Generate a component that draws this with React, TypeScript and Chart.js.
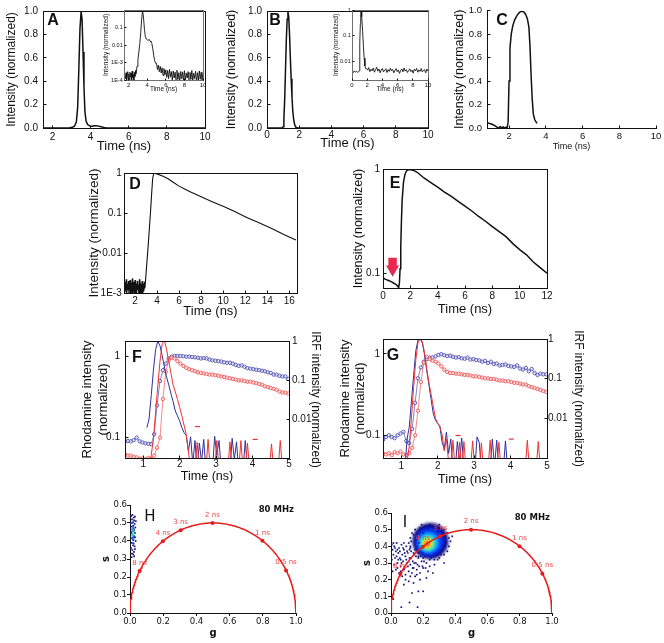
import React, { useEffect, useRef } from 'react';
import { Chart, registerables } from 'chart.js';

Chart.register(...registerables);

// ---------- fonts & colours ----------
const SANS = "'Liberation Sans', Arial, sans-serif";
const MPL = "'DejaVu Sans', sans-serif";
const INK = '#111111';
const INSET_FRAME = '#707070';
const IRF_BLUE = '#30309c';
const IRF_RED = '#ee3232';
const DOT_BLUE = '#4e4eb0';
const DOT_RED = '#f05656';
const ARROW_RED = '#e8294f';
const ARC_RED = '#e41c1c';
const TAU_RED = '#f04848';
const NAVY = '#14147a';
const HALO_BLUE = '#1a2ad8';

// ---------- shared tick sets ----------
const UNIT_TICKS = [0, 0.2, 0.4, 0.6, 0.8, 1];
const UNIT_LABELS = ['0.0', '0.2', '0.4', '0.6', '0.8', '1.0'];
const NS_2_10 = [2, 4, 6, 8, 10];
const NS_2_10_LABELS = ['2', '4', '6', '8', '10'];
const NS_0_10 = [0, 2, 4, 6, 8, 10];
const NS_0_10_LABELS = ['0', '2', '4', '6', '8', '10'];
const NS_D = [2, 4, 6, 8, 10, 12, 14, 16];
const NS_D_LABELS = ['2', '4', '6', '8', '10', '12', '14', '16'];
const NS_E = [0, 2, 4, 6, 8, 10, 12];
const NS_E_LABELS = ['0', '2', '4', '6', '8', '10', '12'];
const NS_FG = [1, 2, 3, 4, 5];
const NS_FG_LABELS = ['1', '2', '3', '4', '5'];
const G_TICKS = [0, 0.2, 0.4, 0.6, 0.8, 1];
const G_LABELS = ['0.0', '0.2', '0.4', '0.6', '0.8', '1.0'];
const S_TICKS = [0, 0.1, 0.2, 0.3, 0.4, 0.5, 0.6];
const S_LABELS = ['0.0', '0.1', '0.2', '0.3', '0.4', '0.5', '0.6'];

// ---------- A: instrument response, linear ----------
const A_T = [1.5, 2.0, 2.5, 2.9, 3.05, 3.15, 3.25, 3.32, 3.38, 3.44, 3.5, 3.55, 3.6, 3.65, 3.7, 3.76,
  3.84, 3.92, 4.0, 4.1, 4.2, 4.3, 4.4, 4.5, 4.6, 4.7, 4.8, 5.0, 6.0, 8.0, 10.0];
const A_V = [0, 0, 0, 0.002, 0.006, 0.015, 0.05, 0.18, 0.5, 0.85, 0.995, 0.93, 0.65, 0.35, 0.14, 0.06,
  0.03, 0.02, 0.016, 0.015, 0.02, 0.019, 0.016, 0.012, 0.008, 0.005, 0.003, 0.001, 0, 0, 0];

// A inset: same response on a log axis
const AI_PRE_T = [1.6, 1.66, 1.72, 1.78, 1.84, 1.9, 1.96, 2.02, 2.08, 2.14, 2.2, 2.26, 2.32, 2.38, 2.44,
  2.5, 2.56, 2.62, 2.68, 2.74, 2.8];
const AI_PRE_V = [2e-4, 1.2e-4, 2.6e-4, 0.9e-4, 1.8e-4, 3e-4, 1.1e-4, 2.2e-4, 0.8e-4, 2.8e-4, 1.5e-4,
  2.4e-4, 1e-4, 3.2e-4, 1.3e-4, 2e-4, 0.9e-4, 2.7e-4, 1.6e-4, 3.5e-4, 2.2e-4];
const AI_PEAK_T = [2.9, 3.0, 3.1, 3.2, 3.3, 3.4, 3.5, 3.6, 3.7, 3.8, 3.9, 4.0, 4.1, 4.2, 4.3, 4.4, 4.5,
  4.6, 4.7, 4.8, 4.9];
const AI_PEAK_V = [6e-4, 1.5e-3, 4e-3, 0.012, 0.05, 0.3, 0.98, 0.35, 0.08, 0.03, 0.022, 0.02, 0.018,
  0.021, 0.017, 0.015, 0.012, 0.006, 0.0025, 0.0013, 0.0009];
const AI_TAIL_T = [5.0, 5.1, 5.2, 5.3, 5.4, 5.5, 5.6, 5.7, 5.8, 5.9, 6.0, 6.1, 6.2, 6.3, 6.4, 6.5, 6.6,
  6.7, 6.8, 6.9, 7.0, 7.1, 7.2, 7.3, 7.4, 7.5, 7.6, 7.7, 7.8, 7.9, 8.0, 8.1, 8.2, 8.3, 8.4, 8.5, 8.6,
  8.7, 8.8, 8.9, 9.0, 9.1, 9.2, 9.3, 9.4, 9.5, 9.6, 9.7, 9.8, 9.9, 10.0];
const AI_TAIL_V = [9e-4, 4e-4, 7e-4, 3e-4, 6e-4, 2.5e-4, 5e-4, 1.8e-4, 4.5e-4, 2e-4, 3.8e-4, 1.4e-4,
  3.5e-4, 1.2e-4, 4e-4, 1.5e-4, 3e-4, 0.9e-4, 3.3e-4, 1.3e-4, 2.8e-4, 0.9e-4, 3.6e-4, 1.1e-4, 2.6e-4,
  0.8e-4, 3.1e-4, 1.2e-4, 2.9e-4, 0.9e-4, 3.4e-4, 1e-4, 2.5e-4, 1.3e-4, 3e-4, 0.8e-4, 2.7e-4, 1.1e-4,
  3.5e-4, 0.9e-4, 2.4e-4, 1.2e-4, 3.2e-4, 0.8e-4, 2.6e-4, 1e-4, 3.3e-4, 1.1e-4, 2.8e-4, 0.9e-4, 3e-4];
const AI_Y_TICKS = [1e-4, 1e-3, 1e-2, 1e-1];
const AI_Y_LABELS = ['1E-4', '1E-3', '0.01', '0.1'];

// ---------- B: second response, linear ----------
const B_T = [0, 0.5, 0.95, 1.0, 1.05, 1.1, 1.15, 1.2, 1.25, 1.3, 1.35, 1.4, 1.45, 1.5, 1.55, 1.6, 1.65,
  1.7, 1.75, 1.8, 1.9, 2.5, 5, 10];
const B_V = [0, 0, 0, 0.01, 0.08, 0.25, 0.5, 0.75, 0.93, 0.995, 0.95, 0.8, 0.6, 0.42, 0.27, 0.15, 0.08,
  0.04, 0.015, 0.005, 0, 0, 0, 0];

// B inset: log axis
const BI_PRE_T = [0, 0.15, 0.3, 0.45, 0.6, 0.75, 0.9];
const BI_PRE_V = [0.0042, 0.0038, 0.0045, 0.004, 0.0044, 0.0039, 0.0043];
const BI_PEAK_T = [0.95, 1.0, 1.05, 1.1, 1.15, 1.2, 1.25, 1.3, 1.4, 1.5, 1.6, 1.7, 1.8];
const BI_PEAK_V = [0.0045, 0.012, 0.06, 0.3, 0.7, 0.98, 0.85, 0.55, 0.15, 0.04, 0.014, 0.007, 0.0055];
const BI_TAIL_T = [1.9, 2.05, 2.2, 2.35, 2.5, 2.65, 2.8, 2.95, 3.1, 3.25, 3.4, 3.55, 3.7, 3.85, 4.0,
  4.15, 4.3, 4.45, 4.6, 4.75, 4.9, 5.05, 5.2, 5.35, 5.5, 5.65, 5.8, 5.95, 6.1, 6.25, 6.4, 6.55, 6.7,
  6.85, 7.0, 7.15, 7.3, 7.45, 7.6, 7.75, 7.9, 8.05, 8.2, 8.35, 8.5, 8.65, 8.8, 8.95, 9.1, 9.25, 9.4,
  9.55, 9.7, 9.85, 10.0];
const BI_TAIL_V = [0.0055, 0.0048, 0.006, 0.0042, 0.0052, 0.0045, 0.0058, 0.004, 0.005, 0.0062, 0.0044,
  0.0053, 0.0038, 0.0049, 0.0056, 0.0041, 0.0047, 0.0054, 0.0039, 0.005, 0.0043, 0.0057, 0.0045,
  0.0051, 0.0038, 0.0046, 0.0055, 0.0042, 0.0049, 0.0036, 0.0047, 0.0053, 0.0041, 0.0058, 0.0044,
  0.005, 0.0039, 0.0046, 0.0054, 0.0042, 0.0048, 0.0037, 0.0052, 0.0045, 0.0056, 0.004, 0.0049,
  0.0043, 0.0055, 0.0041, 0.0047, 0.005, 0.0038, 0.0053, 0.0044];
const BI_Y_TICKS = [0.01, 0.1, 1];
const BI_Y_LABELS = ['0.01', '0.1', '1'];

// ---------- C: gated pulse ----------
const C_T = [0.8, 0.9, 1.0, 1.1, 1.2, 1.3, 1.38, 1.45, 1.52, 1.6, 1.68, 1.75, 1.82, 1.9, 1.95, 2.0, 2.05,
  2.12, 2.2, 2.3, 2.4, 2.5, 2.6, 2.7, 2.8, 2.9, 3.0, 3.08, 3.14, 3.2, 3.26, 3.32, 3.4, 3.52];
const C_V = [0.045, 0.04, 0.036, 0.03, 0.022, 0.012, 0.004, 0, 0.012, 0.002, 0.01, 0, 0.006, 0.004, 0.05,
  0.4, 0.68, 0.8, 0.87, 0.92, 0.95, 0.975, 0.99, 0.995, 0.99, 0.97, 0.93, 0.86, 0.7, 0.45, 0.25, 0.12,
  0.07, 0.04];

// ---------- D: rhodamine decay, log ----------
const D_NOISE_T = [1.0, 1.05, 1.1, 1.15, 1.2, 1.25, 1.3, 1.35, 1.4, 1.45, 1.5, 1.55, 1.6, 1.65, 1.7,
  1.75, 1.8, 1.85, 1.9, 1.95, 2.0, 2.05, 2.1, 2.15, 2.2, 2.25, 2.3, 2.35, 2.4, 2.45, 2.5, 2.55, 2.6,
  2.65, 2.7, 2.75, 2.8, 2.85, 2.9];
const D_NOISE_V = [0.0016, 0.0009, 0.0019, 0.0011, 0.0022, 0.0008, 0.0017, 0.0012, 0.002, 0.0009,
  0.0015, 0.0021, 0.0008, 0.0018, 0.001, 0.0023, 0.0009, 0.0014, 0.0019, 0.0008, 0.0021, 0.0011,
  0.0017, 0.0009, 0.002, 0.0012, 0.0016, 0.0008, 0.0022, 0.001, 0.0018, 0.0009, 0.0015, 0.002, 0.0008,
  0.0017, 0.0011, 0.0019, 0.0013];
const D_T = [2.95, 3.0, 3.1, 3.2, 3.3, 3.4, 3.5, 3.6, 3.7, 3.8, 4.0, 4.5, 5.0, 5.5, 6.0, 6.5, 7.0, 7.5,
  8.0, 8.5, 9.0, 9.5, 10.0, 10.5, 11.0, 11.5, 12.0, 12.5, 13.0, 13.5, 14.0, 14.5, 15.0, 15.5, 16.0, 16.6];
const D_V = [0.002, 0.003, 0.007, 0.016, 0.04, 0.1, 0.28, 0.72, 0.99, 0.98, 0.95, 0.84, 0.72, 0.58, 0.47,
  0.4, 0.34, 0.295, 0.255, 0.22, 0.192, 0.168, 0.147, 0.127, 0.11, 0.094, 0.081, 0.07, 0.061, 0.053,
  0.046, 0.04, 0.034, 0.029, 0.025, 0.021];
const D_Y_TICKS = [0.001, 0.01, 0.1, 1];
const D_Y_LABELS = ['1E-3', '0.01', '0.1', '1'];

// ---------- E: decay with pile-up offset ----------
const E_T = [0, 0.2, 0.4, 0.6, 0.8, 1.0, 1.1, 1.15, 1.2, 1.25, 1.3, 1.35, 1.4, 1.5, 1.6, 1.7, 1.8, 1.9,
  2.0, 2.2, 2.5, 3.0, 3.5, 4.0, 4.5, 5.0, 5.5, 6.0, 6.5, 7.0, 7.5, 8.0, 8.5, 9.0, 9.5, 10.0, 10.5,
  11.0, 11.5, 12.0];
const E_V = [0.09, 0.087, 0.085, 0.083, 0.08, 0.077, 0.074, 0.073, 0.08, 0.11, 0.18, 0.32, 0.5, 0.75,
  0.88, 0.95, 0.98, 0.99, 0.985, 0.975, 0.93, 0.82, 0.74, 0.67, 0.6, 0.545, 0.49, 0.44, 0.395, 0.35,
  0.315, 0.28, 0.25, 0.224, 0.192, 0.168, 0.15, 0.128, 0.113, 0.1];
const E_Y_TICKS = [0.1, 1];
const E_Y_LABELS = ['0.1', '1'];
// arrow marking the pre-pulse offset (time, head and shaft positions in intensity units)
const E_ARROW_T = 0.7;
const E_ARROW_HEAD = 0.109;
const E_ARROW_SHAFT = 0.128;

// ---------- F / G: rhodamine decays (circles) with their IRFs (lines) ----------
const CT = [0.5, 0.58, 0.66, 0.74, 0.82, 0.9, 0.98, 1.06, 1.14, 1.22, 1.3, 1.38, 1.46, 1.54, 1.62, 1.7,
  1.78, 1.86, 1.94, 2.02, 2.1, 2.18, 2.26, 2.34, 2.42, 2.5, 2.58, 2.66, 2.74, 2.82, 2.9, 2.98, 3.06,
  3.14, 3.22, 3.3, 3.38, 3.46, 3.54, 3.62, 3.7, 3.78, 3.86, 3.94, 4.02, 4.1, 4.18, 4.26, 4.34, 4.42,
  4.5, 4.58, 4.66, 4.74, 4.82, 4.9, 4.98];
const F_BLUE = [0.09, 0.091, 0.09, 0.093, 0.1, 0.09, 0.087, 0.085, 0.084, 0.083,
  0.11, 0.25, 0.5, 0.68, 0.82, 0.95, 1.0, 1.02, 1.02, 1.02,
  1.01, 1.0, 1.0, 0.99, 0.98, 0.97, 0.95, 0.96, 0.95, 0.92,
  0.9, 0.89, 0.88, 0.87, 0.85, 0.84, 0.84, 0.82, 0.79, 0.77,
  0.78, 0.75, 0.72, 0.71, 0.7, 0.69, 0.68, 0.67, 0.66, 0.64,
  0.63, 0.6, 0.6, 0.58, 0.57, 0.57, 0.53];
const F_RED = [0.062, 0.06, 0.06, 0.058, 0.057, 0.055, 0.055, 0.054, 0.056, 0.055,
  0.06, 0.075, 0.1, 0.3, 0.65, 0.9, 0.97, 0.95, 0.88, 0.82,
  0.77, 0.73, 0.7, 0.68, 0.66, 0.64, 0.63, 0.62, 0.61, 0.6,
  0.6, 0.59, 0.58, 0.57, 0.56, 0.55, 0.54, 0.53, 0.52, 0.51,
  0.51, 0.5, 0.49, 0.49, 0.48, 0.47, 0.46, 0.45, 0.43, 0.42,
  0.41, 0.4, 0.39, 0.37, 0.36, 0.36, 0.35];
const G_BLUE = [0.088, 0.095, 0.1, 0.095, 0.092, 0.1, 0.105, 0.11, 0.085, 0.08,
  0.12, 0.25, 0.5, 0.68, 0.8, 0.86, 0.9, 0.9, 0.93, 0.97,
  0.99, 0.96, 0.94, 0.95, 0.92, 0.9, 0.91, 0.88, 0.87, 0.9,
  0.85, 0.86, 0.84, 0.83, 0.8, 0.82, 0.77, 0.8, 0.75, 0.76,
  0.72, 0.73, 0.74, 0.71, 0.7, 0.69, 0.72, 0.66, 0.64, 0.67,
  0.61, 0.65, 0.58, 0.55, 0.57, 0.56, 0.56];
const G_RED = [0.06, 0.058, 0.06, 0.057, 0.062, 0.06, 0.063, 0.058, 0.057, 0.06,
  0.07, 0.1, 0.2, 0.45, 0.78, 0.92, 0.86, 0.82, 0.8, 0.76,
  0.7, 0.64, 0.6, 0.58, 0.58, 0.57, 0.57, 0.56, 0.55, 0.55,
  0.54, 0.53, 0.53, 0.52, 0.51, 0.5, 0.5, 0.49, 0.49, 0.48,
  0.47, 0.47, 0.46, 0.46, 0.45, 0.44, 0.44, 0.43, 0.42, 0.42,
  0.4, 0.39, 0.38, 0.37, 0.36, 0.35, 0.34];

const IRF_T = [1.1, 1.16, 1.22, 1.28, 1.34, 1.4, 1.46, 1.52, 1.58, 1.64,
  1.7, 1.76, 1.82, 1.88, 1.94, 2.0, 2.06, 2.12, 2.18, 2.24,
  2.3, 2.36, 2.42, 2.48, 2.54, 2.6, 2.66, 2.72, 2.78, 2.84,
  2.9, 2.96, 3.02, 3.08, 3.14, 3.2, 3.26, 3.32, 3.38, 3.44,
  3.5, 3.56, 3.62, 3.68, 3.74, 3.8, 3.86, 3.92, 3.98, 4.04,
  4.1, 4.16, 4.22, 4.28, 4.34, 4.4, 4.46, 4.52, 4.58, 4.64,
  4.7, 4.76, 4.82, 4.88, 4.94, 5.0];
const F_IRF_BLUE = [0.006, 0.01, 0.04, 0.18, 0.6, 1.0, 0.75, 0.42, 0.22, 0.12,
  0.075, 0.045, 0.028, 0.016, 0.012, 0.009, 0.006, 0.0045, 0.0038, 0.0015,
  0.0035, 0.0007, 0.0028, 0.0005, 0.0024, 0.0008, 0.003, 0.0005, 0.0005, 0.0005,
  0.0005, 0.0036, 0.0012, 0.0028, 0.0005, 0.0005, 0.0005, 0.0005, 0.0005, 0.0032,
  0.0009, 0.0026, 0.0005, 0.0005, 0.0005, 0.0028, 0.0005, 0.0005, 0.0005, 0.0005,
  0.0005, 0.0005, 0.0005, 0.0005, 0.0005, 0.0005, 0.0005, 0.0005, 0.0005, 0.0005,
  0.0005, 0.0005, 0.0005, 0.0005, 0.0005, 0.0005];
const F_IRF_RED = [0.0003, 0.0005, 0.0012, 0.003, 0.015, 0.07, 0.3, 0.85, 1.02, 0.62,
  0.3, 0.15, 0.075, 0.05, 0.032, 0.02, 0.012, 0.007, 0.004, 0.0015,
  0.0005, 0.0005, 0.0005, 0.0025, 0.0005, 0.0005, 0.0005, 0.0005, 0.003, 0.0005,
  0.0005, 0.0005, 0.0028, 0.0005, 0.0005, 0.0005, 0.0005, 0.0005, 0.0026, 0.0005,
  0.0005, 0.0005, 0.0005, 0.0028, 0.0005, 0.0005, 0.0024, 0.0005, 0.0005, 0.0005,
  0.0005, 0.0005, 0.0005, 0.0005, 0.0005, 0.0005, 0.0005, 0.0023, 0.0005, 0.0005,
  0.0005, 0.0028, 0.0005, 0.0005, 0.0005, 0.0005];
const G_IRF_BLUE = [0.0005, 0.003, 0.006, 0.027, 0.12, 0.5, 0.95, 1.03, 0.78, 0.4,
  0.16, 0.07, 0.03, 0.013, 0.009, 0.0075, 0.0065, 0.0025, 0.0017, 0.0045,
  0.0013, 0.003, 0.0005, 0.0005, 0.0026, 0.0008, 0.0032, 0.0005, 0.0005, 0.0005,
  0.0005, 0.0005, 0.0005, 0.0034, 0.0025, 0.0005, 0.0005, 0.0005, 0.0005, 0.0005,
  0.003, 0.0006, 0.0028, 0.0005, 0.0005, 0.0005, 0.0027, 0.0005, 0.0005, 0.0005,
  0.0005, 0.0005, 0.0005, 0.0005, 0.0005, 0.0005, 0.0005, 0.0005, 0.0005, 0.0005,
  0.0005, 0.0005, 0.0005, 0.0005, 0.0005, 0.0005];
const G_IRF_RED = [0.0005, 0.0008, 0.002, 0.01, 0.06, 0.3, 0.8, 1.03, 0.85, 0.45,
  0.18, 0.08, 0.04, 0.02, 0.01, 0.0075, 0.006, 0.004, 0.0015, 0.003,
  0.0008, 0.0005, 0.0028, 0.0005, 0.0005, 0.0025, 0.0005, 0.0026, 0.0005, 0.0005,
  0.0005, 0.0027, 0.0005, 0.0005, 0.0005, 0.0024, 0.0005, 0.0005, 0.0005, 0.0028,
  0.0005, 0.0005, 0.0005, 0.0025, 0.0005, 0.0005, 0.0005, 0.0005, 0.0005, 0.0005,
  0.0005, 0.0005, 0.0005, 0.0005, 0.0005, 0.0005, 0.0028, 0.0005, 0.0005, 0.0005,
  0.0005, 0.0026, 0.0005, 0.0005, 0.0005, 0.0005];
// isolated IRF counts whose neighbours fall off the log axis
const F_STRAY_T = [2.49, 4.07];
const F_STRAY_V = [0.0064, 0.003];
const G_STRAY_T = [2.56, 4.02];
const G_STRAY_V = [0.0037, 0.003];
const RHO_TICKS = [0.1, 1];
const RHO_LABELS = ['0.1', '1'];
const IRF_TICKS = [0.01, 0.1, 1];
const IRF_LABELS = ['0.01', '0.1', '1'];

// ---------- H / I: phasor plots at 80 MHz ----------
const TAU_LABELS = ['8 ns', '4 ns', '3 ns', '2 ns', '1 ns', '0.5 ns'];
const TAU_G = [0.058, 0.198, 0.305, 0.497, 0.798, 0.94];
const TAU_S = [0.234, 0.398, 0.46, 0.5, 0.401, 0.236];

const H_NAVY_G = [0.008, 0.015, 0.022, 0.03, 0.012, 0.025, 0.035, 0.006, 0.018, 0.028,
  0.01, 0.02, 0.032, 0.014, 0.024, 0.008, 0.03, 0.016, 0.026, 0.012,
  0.02, 0.034, 0.01, 0.022, 0.018, 0.028, 0.006, 0.014, 0.03, 0.024,
  0.012, 0.02, 0.01, 0.025, 0.015, 0.03];
const H_NAVY_S = [0.54, 0.545, 0.53, 0.535, 0.52, 0.515, 0.51, 0.5, 0.505, 0.495,
  0.48, 0.485, 0.475, 0.465, 0.46, 0.45, 0.445, 0.43, 0.425, 0.415,
  0.405, 0.4, 0.39, 0.385, 0.375, 0.37, 0.36, 0.35, 0.355, 0.34,
  0.33, 0.325, 0.31, 0.315, 0.44, 0.42];
const H_BLUE_G = [0.012, 0.018, 0.022, 0.016, 0.02, 0.014, 0.024, 0.018, 0.02, 0.016];
const H_BLUE_S = [0.5, 0.48, 0.47, 0.46, 0.45, 0.44, 0.43, 0.42, 0.41, 0.39];
const H_CYAN_G = [0.018, 0.02, 0.016, 0.022];
const H_CYAN_S = [0.46, 0.44, 0.43, 0.45];
const H_GREEN_G = [0.019, 0.021];
const H_GREEN_S = [0.445, 0.435];

// dense population of panel I, density levels from outside to centre
const I_CORE_G = [0.245, 0.24, 0.236, 0.233, 0.23, 0.228, 0.226, 0.225, 0.225];
const I_CORE_S = [0.432, 0.428, 0.425, 0.422, 0.42, 0.418, 0.417, 0.416, 0.415];
const I_CORE_RADII = [18, 15, 12.5, 10.5, 8.5, 6.5, 4.8, 3.2, 1.8];
const I_CORE_COLORS = ['#0c0c7a', '#0a1ad0', '#0a46ff', '#0a90ff', '#20d0e8', '#70f090', '#e8f030',
  '#ff9a10', '#f01010'];
// pixels on the rim of the dense population (g, s)
const I_RIM = [
  [0.16, 0.44], [0.165, 0.4], [0.17, 0.47], [0.18, 0.37], [0.19, 0.49], [0.2, 0.36], [0.215, 0.5],
  [0.23, 0.35], [0.25, 0.505], [0.26, 0.355], [0.28, 0.495], [0.29, 0.37], [0.305, 0.48], [0.31, 0.39],
  [0.315, 0.455], [0.32, 0.42], [0.175, 0.42], [0.3, 0.5], [0.2, 0.48], [0.27, 0.36], [0.155, 0.46],
  [0.33, 0.44], [0.22, 0.34], [0.285, 0.51],
];
// sparse pixels around and below the population (g, s)
const I_SPECKLES = [
  [0.005, 0.41], [0.01, 0.38], [0.015, 0.35], [0.02, 0.4], [0.025, 0.33], [0.03, 0.37], [0.035, 0.42],
  [0.04, 0.3], [0.045, 0.36], [0.05, 0.39], [0.055, 0.33], [0.06, 0.28], [0.065, 0.41], [0.07, 0.35],
  [0.075, 0.31], [0.08, 0.38], [0.085, 0.27], [0.09, 0.34], [0.095, 0.4], [0.1, 0.3], [0.105, 0.36],
  [0.11, 0.25], [0.115, 0.33], [0.12, 0.29], [0.125, 0.37], [0.13, 0.24], [0.135, 0.31], [0.14, 0.27],
  [0.145, 0.35], [0.15, 0.22], [0.155, 0.3], [0.16, 0.26], [0.17, 0.33], [0.175, 0.28], [0.18, 0.24],
  [0.19, 0.31], [0.2, 0.27], [0.21, 0.34], [0.22, 0.3], [0.23, 0.25], [0.25, 0.33], [0.27, 0.29],
  [0.29, 0.32], [0.31, 0.35], [0.33, 0.3], [0.02, 0.29], [0.03, 0.26], [0.05, 0.24], [0.07, 0.22],
  [0.09, 0.2], [0.11, 0.19], [0.14, 0.18], [0.08, 0.26], [0.06, 0.32], [0.04, 0.38], [0.1, 0.37],
  [0.12, 0.4], [0.08, 0.42], [0.15, 0.38], [0.17, 0.36], [0.005, 0.32], [0.01, 0.25], [0.0, 0.36],
  [0.13, 0.12], [0.17, 0.13], [0.2, 0.13], [0.08, 0.17], [0.064, 0.035], [0.115, 0.063], [0.165, 0.035],
  [0.014, 0.083], [0.18, 0.2], [0.22, 0.21], [0.26, 0.24], [0.24, 0.28],
  [0.015, 0.42], [0.025, 0.39], [0.035, 0.34], [0.045, 0.32], [0.055, 0.37], [0.065, 0.3], [0.075, 0.39],
  [0.085, 0.36], [0.095, 0.32], [0.105, 0.28], [0.115, 0.38], [0.125, 0.33], [0.135, 0.27], [0.145, 0.3],
  [0.155, 0.34], [0.165, 0.29], [0.185, 0.34], [0.195, 0.28], [0.205, 0.31], [0.215, 0.27], [0.04, 0.27],
  [0.06, 0.25], [0.09, 0.23], [0.12, 0.22], [0.16, 0.23],
  [0.12, 0.45], [0.13, 0.48], [0.15, 0.5], [0.18, 0.51], [0.21, 0.52], [0.24, 0.53], [0.27, 0.52],
  [0.3, 0.51], [0.33, 0.5], [0.35, 0.48], [0.36, 0.45], [0.37, 0.43], [0.36, 0.4], [0.35, 0.37],
  [0.33, 0.35], [0.3, 0.33], [0.27, 0.32], [0.24, 0.32], [0.2, 0.33], [0.17, 0.34], [0.14, 0.36],
  [0.12, 0.39], [0.11, 0.42], [0.14, 0.47], [0.32, 0.47], [0.34, 0.42], [0.29, 0.36], [0.16, 0.37],
  [0.26, 0.5], [0.2, 0.49], [0.125, 0.43], [0.38, 0.46], [0.3, 0.53], [0.19, 0.53],
];

// universal semicircle: every single-exponential decay lies on s = sqrt(g(1 - g))
const UC_STEPS = 180;
const universalCircle = Array.from({ length: UC_STEPS + 1 }, (_, i) => {
  const th = (Math.PI * i) / UC_STEPS;
  return { x: (1 - Math.cos(th)) / 2, y: Math.sin(th) / 2 };
});

// ---------- helpers ----------
const xy = (xs: number[], ys: number[]) => xs.map((x, i) => ({ x, y: ys[i] }));
const pairs = (ps: number[][]) => ps.map(([x, y]) => ({ x, y }));

const framePlugin = {
  id: 'frame',
  afterDatasetsDraw(chart: any, _args: any, opts: any) {
    if (!opts || (!opts.box && !opts.ticks)) return;
    const { ctx, chartArea: a } = chart;
    const snap = (v: number) => Math.round(v - 0.5) + 0.5;
    const L = snap(a.left);
    const R = snap(a.right);
    const T = snap(a.top);
    const B = snap(a.bottom);
    ctx.save();
    ctx.lineWidth = 1;
    if (opts.box) {
      ctx.strokeStyle = opts.box;
      ctx.strokeRect(L, T, R - L, B - T);
    }
    if (opts.ticks) {
      const len = opts.ticks;
      ctx.strokeStyle = opts.tickColor || INK;
      Object.values(chart.scales).forEach((sc: any) => {
        sc.ticks.forEach((t: any) => {
          const p = snap(sc.getPixelForValue(t.value));
          ctx.beginPath();
          if (sc.position === 'bottom') {
            ctx.moveTo(p, B);
            ctx.lineTo(p, B - len);
          } else if (sc.position === 'left') {
            ctx.moveTo(L, p);
            ctx.lineTo(L + len, p);
          } else {
            ctx.moveTo(R, p);
            ctx.lineTo(R - len, p);
          }
          ctx.stroke();
        });
      });
    }
    ctx.restore();
  },
};

const notesPlugin = {
  id: 'notes',
  afterDatasetsDraw(chart: any, _args: any, opts: any) {
    const items = (opts && opts.items) || [];
    const { ctx, chartArea: a } = chart;
    items.forEach((it: any) => {
      ctx.save();
      ctx.font = it.font;
      ctx.fillStyle = it.color || INK;
      ctx.textAlign = it.align || 'center';
      ctx.textBaseline = 'middle';
      ctx.fillText(it.text, (it.fromRight ? a.right : a.left) + it.dx, a.top + it.dy);
      ctx.restore();
    });
  },
};

const pointLabelsPlugin = {
  id: 'pointLabels',
  afterDatasetsDraw(chart: any, _args: any, opts: any) {
    if (!opts || opts.dataset === undefined || opts.dataset === null) return;
    const meta = chart.getDatasetMeta(opts.dataset);
    const { ctx } = chart;
    ctx.save();
    ctx.font = opts.font;
    ctx.fillStyle = opts.color;
    ctx.textAlign = 'center';
    ctx.textBaseline = 'middle';
    meta.data.forEach((el: any, i: number) => {
      ctx.fillText(opts.labels[i], el.x, el.y + opts.dy);
    });
    ctx.restore();
  },
};

// softens one dataset (the density levels of the phasor population)
const softenPlugin = {
  id: 'soften',
  beforeDatasetDraw(chart: any, args: any, opts: any) {
    if (!opts || opts.dataset !== args.index) return;
    chart.ctx.save();
    chart.ctx.filter = `blur(${opts.blur}px)`;
  },
  afterDatasetDraw(chart: any, args: any, opts: any) {
    if (!opts || opts.dataset !== args.index) return;
    chart.ctx.restore();
  },
};

interface AxisSpec {
  pos: 'left' | 'right' | 'bottom';
  log?: boolean;
  min: number;
  max: number;
  ticks: number[];
  labels: string[];
  size: number;
  tickSize: number;
  tickPad: number;
  outward?: number;
  font?: string;
  title?: string | string[];
  titleSize: number;
  titlePad: number;
  titleBold?: boolean;
}

function axis(a: AxisSpec) {
  const horizontal = a.pos === 'bottom';
  const family = a.font || SANS;
  return {
    type: a.log ? 'logarithmic' : 'linear',
    position: a.pos,
    min: a.min,
    max: a.max,
    afterBuildTicks: (s: any) => {
      s.ticks = a.ticks.map((value) => ({ value }));
    },
    afterFit: (s: any) => {
      if (horizontal) s.height = a.size;
      else s.width = a.size;
    },
    ticks: {
      autoSkip: false,
      maxRotation: 0,
      minRotation: 0,
      padding: a.tickPad,
      color: INK,
      font: { family, size: a.tickSize },
      callback: (_v: any, i: number) => a.labels[i],
    },
    grid: {
      display: true,
      drawOnChartArea: false,
      drawTicks: !!a.outward,
      tickLength: a.outward || 0,
      color: INK,
      lineWidth: 1,
    },
    border: { display: true, color: INK, width: 1 },
    title: {
      display: !!a.title,
      text: a.title,
      color: INK,
      font: { family, size: a.titleSize, weight: a.titleBold ? 'bold' : 'normal' },
      padding: { top: a.titlePad, bottom: a.titlePad },
    },
  };
}

const trace = (xs: number[], ys: number[], color: string, width: number, yAxisID = 'y') => ({
  data: xy(xs, ys),
  showLine: true,
  borderColor: color,
  borderWidth: width,
  pointRadius: 0,
  tension: 0,
  yAxisID,
});

const circles = (xs: number[], ys: number[], color: string) => ({
  data: xy(xs, ys),
  showLine: true,
  borderColor: color,
  borderWidth: 0.7,
  pointStyle: 'circle',
  pointRadius: 1.7,
  pointBorderWidth: 0.9,
  pointBorderColor: color,
  pointBackgroundColor: 'rgba(255,255,255,0.55)',
  yAxisID: 'y',
});

const dots = (data: any[], color: string, radius: number, style = 'rect') => ({
  data,
  showLine: false,
  pointStyle: style,
  pointRadius: radius,
  pointBorderWidth: 0,
  pointBackgroundColor: color,
  pointBorderColor: color,
});

const letter = (text: string, dx: number, dy: number, font = `bold 16px ${SANS}`) => ({ text, dx, dy, font });

function cfg(datasets: any[], padding: any, scales: any, plugins: any) {
  return {
    type: 'scatter',
    data: { datasets },
    options: {
      responsive: false,
      maintainAspectRatio: false,
      animation: false,
      events: [],
      layout: { padding },
      scales,
      plugins: { legend: { display: false }, tooltip: { enabled: false }, ...plugins },
    },
    plugins: [framePlugin, notesPlugin, pointLabelsPlugin, softenPlugin],
  };
}

// ---------- panels ----------
function panelA() {
  return cfg(
    [trace(A_T, A_V, INK, 1.5)],
    { left: 0, top: 7, right: 15, bottom: 0 },
    {
      x: axis({ pos: 'bottom', min: 1.5, max: 10, ticks: NS_2_10, labels: NS_2_10_LABELS, size: 32,
        tickSize: 10, tickPad: 3, title: 'Time (ns)', titleSize: 13, titlePad: 6 }),
      y: axis({ pos: 'left', min: 0, max: 1, ticks: UNIT_TICKS, labels: UNIT_LABELS, size: 43,
        tickSize: 10, tickPad: 5, title: 'Intensity (normalized)', titleSize: 12, titlePad: 4.8 }),
    },
    { frame: { box: INK, ticks: 3 }, notes: { items: [letter('A', 10, 10)] } },
  );
}

function panelAInset() {
  return cfg(
    [trace([...AI_PRE_T, ...AI_PEAK_T, ...AI_TAIL_T], [...AI_PRE_V, ...AI_PEAK_V, ...AI_TAIL_V], INK, 0.9)],
    { left: 0, top: 5, right: 5, bottom: 0 },
    {
      x: axis({ pos: 'bottom', min: 1.5, max: 10, ticks: NS_2_10, labels: NS_2_10_LABELS, size: 17,
        tickSize: 6, tickPad: 1.4, title: 'Time (ns)', titleSize: 6.5, titlePad: 3.8 }),
      y: axis({ pos: 'left', log: true, min: 1e-4, max: 1, ticks: AI_Y_TICKS, labels: AI_Y_LABELS, size: 24,
        tickSize: 5.5, tickPad: 1.3, title: 'Intensity (normalized)', titleSize: 6.5, titlePad: 2 }),
    },
    { frame: { box: INSET_FRAME, ticks: 2 } },
  );
}

function panelB() {
  return cfg(
    [trace(B_T, B_V, INK, 1.5)],
    { left: 0, top: 8, right: 12, bottom: 0 },
    {
      x: axis({ pos: 'bottom', min: 0, max: 10, ticks: NS_0_10, labels: NS_0_10_LABELS, size: 32,
        tickSize: 10, tickPad: 1, title: 'Time (ns)', titleSize: 13, titlePad: 8.9 }),
      y: axis({ pos: 'left', min: 0, max: 1, ticks: UNIT_TICKS, labels: UNIT_LABELS, size: 47,
        tickSize: 10, tickPad: 5, title: 'Intensity (normalized)', titleSize: 12.5, titlePad: 4.2 }),
    },
    { frame: { box: INK, ticks: 3 }, notes: { items: [letter('B', 8, 10)] } },
  );
}

function panelBInset() {
  return cfg(
    [trace([...BI_PRE_T, ...BI_PEAK_T, ...BI_TAIL_T], [...BI_PRE_V, ...BI_PEAK_V, ...BI_TAIL_V], INK, 0.9)],
    { left: 0, top: 5, right: 5, bottom: 0 },
    {
      x: axis({ pos: 'bottom', min: 0, max: 10, ticks: NS_0_10, labels: NS_0_10_LABELS, size: 17,
        tickSize: 6, tickPad: 1.4, title: 'Time (ns)', titleSize: 6.5, titlePad: 3.8 }),
      y: axis({ pos: 'left', log: true, min: 0.002, max: 1, ticks: BI_Y_TICKS, labels: BI_Y_LABELS, size: 27,
        tickSize: 5.5, tickPad: 1.3, title: 'Intensity (normalized)', titleSize: 6.5, titlePad: 7.8 }),
    },
    { frame: { box: INSET_FRAME, ticks: 2 } },
  );
}

function panelC() {
  return cfg(
    [trace(C_T, C_V, INK, 1.5)],
    { left: 0, top: 7, right: 7, bottom: 0 },
    {
      x: axis({ pos: 'bottom', min: 0.8, max: 10, ticks: NS_2_10, labels: NS_2_10_LABELS, size: 32,
        tickSize: 9.5, tickPad: 2.7, title: 'Time (ns)', titleSize: 9, titlePad: 7.9 }),
      y: axis({ pos: 'left', min: 0, max: 1, ticks: UNIT_TICKS, labels: UNIT_LABELS, size: 47,
        tickSize: 9.5, tickPad: 5, title: 'Intensity (normalized)', titleSize: 12.5, titlePad: 12.5 }),
    },
    { frame: { ticks: 3 }, notes: { items: [letter('C', 15, 10)] } },
  );
}

function panelD() {
  return cfg(
    [trace([...D_NOISE_T, ...D_T], [...D_NOISE_V, ...D_V], INK, 1.1)],
    { left: 0, top: 10, right: 13, bottom: 0 },
    {
      x: axis({ pos: 'bottom', min: 1, max: 16.7, ticks: NS_D, labels: NS_D_LABELS, size: 30,
        tickSize: 10, tickPad: 2.7, title: 'Time (ns)', titleSize: 13, titlePad: 3.5 }),
      y: axis({ pos: 'left', log: true, min: 0.001, max: 1, ticks: D_Y_TICKS, labels: D_Y_LABELS, size: 44,
        tickSize: 10, tickPad: 2.3, title: 'Intensity (normalized)', titleSize: 13.5, titlePad: 5.9 }),
    },
    { frame: { box: INK, ticks: 3 }, notes: { items: [letter('D', 11, 12)] } },
  );
}

function panelE() {
  return cfg(
    [
      { ...dots([{ x: E_ARROW_T, y: E_ARROW_HEAD }], ARROW_RED, 7.5, 'triangle'), pointRotation: 180 },
      dots([{ x: E_ARROW_T, y: E_ARROW_SHAFT }], ARROW_RED, 6, 'rect'),
      trace(E_T, E_V, INK, 1.5),
    ],
    { left: 0, top: 9, right: 13, bottom: 0 },
    {
      x: axis({ pos: 'bottom', min: 0, max: 12, ticks: NS_E, labels: NS_E_LABELS, size: 32,
        tickSize: 10, tickPad: 2.7, title: 'Time (ns)', titleSize: 13, titlePad: 2.9 }),
      y: axis({ pos: 'left', log: true, min: 0.072, max: 1, ticks: E_Y_TICKS, labels: E_Y_LABELS, size: 43,
        tickSize: 10, tickPad: 3, title: 'Intensity (normalized)', titleSize: 12.5, titlePad: 10.8 }),
    },
    { frame: { box: INK, ticks: 3 }, notes: { items: [letter('E', 12, 15)] } },
  );
}

function panelFG(which: 'F' | 'G') {
  const f = which === 'F';
  const stray = f ? xy(F_STRAY_T, F_STRAY_V) : xy(G_STRAY_T, G_STRAY_V);
  return cfg(
    [
      { ...dots(stray, IRF_RED, 2.5, 'line'), pointBorderWidth: 1.2, yAxisID: 'y2' },
      trace(IRF_T, f ? F_IRF_RED : G_IRF_RED, IRF_RED, 1, 'y2'),
      trace(IRF_T, f ? F_IRF_BLUE : G_IRF_BLUE, IRF_BLUE, 1, 'y2'),
      circles(CT, f ? F_RED : G_RED, DOT_RED),
      circles(CT, f ? F_BLUE : G_BLUE, DOT_BLUE),
    ],
    { left: 0, top: 8, right: 0, bottom: 0 },
    {
      x: axis({ pos: 'bottom', min: 0.5, max: 5, ticks: NS_FG, labels: NS_FG_LABELS, size: 32,
        tickSize: 10, tickPad: f ? 0 : 2.7, title: 'Time (ns)', titleSize: f ? 12.5 : 13, titlePad: f ? 5.8 : 3.2 }),
      y: axis({ pos: 'left', log: true, min: f ? 0.056 : 0.0525, max: f ? 1.56 : 1.52, ticks: RHO_TICKS,
        labels: RHO_LABELS, size: f ? 55 : 58, tickSize: 10, tickPad: f ? 5 : 3,
        title: ['Rhodamine intensity', '(normalized)'], titleSize: 13, titlePad: f ? 10 : 12.2 }),
      y2: axis({ pos: 'right', log: true, min: 0.001, max: 1, ticks: IRF_TICKS, labels: IRF_LABELS,
        size: f ? 41 : 43, tickSize: 10, tickPad: f ? 3 : 1, title: 'IRF intensity (normalized)',
        titleSize: 12, titlePad: f ? 7.8 : 4.8 }),
    },
    { frame: { box: INK, ticks: 3 }, notes: { items: [letter(which, f ? 12 : 10, 17)] } },
  );
}

function phasorScales(yTitlePad: number, ySize: number) {
  return {
    x: axis({ pos: 'bottom', min: 0, max: 1, ticks: G_TICKS, labels: G_LABELS, size: 30, font: MPL,
      tickSize: 8.5, tickPad: 1, outward: 3, title: 'g', titleSize: 10, titleBold: true, titlePad: 4 }),
    y: axis({ pos: 'left', min: 0, max: 0.6, ticks: S_TICKS, labels: S_LABELS, size: ySize, font: MPL,
      tickSize: 8.5, tickPad: 0, outward: 3, title: 's', titleSize: 10, titleBold: true, titlePad: yTitlePad }),
  };
}

function phasorPlugins(label: string, dx: number, dy: number, extra: any = {}) {
  return {
    notes: {
      items: [
        letter(label, dx, dy, `15px ${MPL}`),
        { text: '80 MHz', dx: -2, dy: 5, fromRight: true, align: 'right', font: `bold 8.5px ${MPL}` },
      ],
    },
    pointLabels: { dataset: 1, labels: TAU_LABELS, dy: -8, font: `7px ${MPL}`, color: TAU_RED },
    ...extra,
  };
}

const arcDataset = () => ({
  data: universalCircle,
  showLine: true,
  borderColor: ARC_RED,
  borderWidth: 1.5,
  pointRadius: 0,
  tension: 0,
});

function panelH() {
  return cfg(
    [
      arcDataset(),
      dots(xy(TAU_G, TAU_S), ARC_RED, 2, 'circle'),
      dots(xy(H_GREEN_G, H_GREEN_S), '#7de070', 1.3),
      dots(xy(H_CYAN_G, H_CYAN_S), '#20c8d0', 1.3),
      dots(xy(H_BLUE_G, H_BLUE_S), '#2255ff', 1.3),
      dots(xy(H_NAVY_G, H_NAVY_S), NAVY, 1.2),
    ],
    { left: 0, top: 10, right: 14, bottom: 0 },
    phasorScales(5, 35),
    phasorPlugins('H', 20, 12),
  );
}

function panelI() {
  return cfg(
    [
      arcDataset(),
      dots(xy(TAU_G, TAU_S), ARC_RED, 2, 'circle'),
      dots(pairs(I_RIM), HALO_BLUE, 1.3),
      {
        data: xy(I_CORE_G, I_CORE_S),
        showLine: false,
        pointStyle: 'circle',
        pointRadius: I_CORE_RADII,
        pointBorderWidth: 0,
        pointBackgroundColor: I_CORE_COLORS,
        pointBorderColor: I_CORE_COLORS,
      },
      dots(pairs(I_SPECKLES), NAVY, 1.2),
    ],
    { left: 0, top: 10, right: 13, bottom: 0 },
    phasorScales(6.3, 36),
    phasorPlugins('I', 14, 10, { soften: { dataset: 3, blur: 1.6 } }),
  );
}

// ---------- layout ----------
const PANELS = [
  { id: 'A', x: 0, y: 0, w: 220, h: 160, build: panelA },
  { id: 'A-inset', x: 100, y: 5, w: 108, h: 92, build: panelAInset },
  { id: 'B', x: 220, y: 0, w: 220, h: 160, build: panelB },
  { id: 'B-inset', x: 325, y: 5, w: 108, h: 92, build: panelBInset },
  { id: 'C', x: 440, y: 0, w: 224, h: 160, build: panelC },
  { id: 'D', x: 80, y: 163, w: 230, h: 160, build: panelD },
  { id: 'E', x: 340, y: 160, w: 220, h: 160, build: panelE },
  { id: 'F', x: 70, y: 330, w: 260, h: 160, build: () => panelFG('F') },
  { id: 'G', x: 325, y: 330, w: 265, h: 160, build: () => panelFG('G') },
  { id: 'H', x: 95, y: 495, w: 215, h: 148, build: panelH },
  { id: 'I', x: 355, y: 495, w: 215, h: 148, build: panelI },
];

function ChartCanvas({ x, y, w, h, build }: { x: number; y: number; w: number; h: number; build: () => any }) {
  const ref = useRef<HTMLCanvasElement | null>(null);
  useEffect(() => {
    if (!ref.current) return undefined;
    const chart = new Chart(ref.current, build());
    return () => chart.destroy();
  }, [build]);
  return (
    <canvas
      ref={ref}
      width={w}
      height={h}
      style={{ position: 'absolute', left: x, top: y, width: w, height: h }}
    />
  );
}

export default function App() {
  return (
    <div style={{ position: 'absolute', left: 0, top: 0, width: 664, height: 643, background: '#ffffff', overflow: 'hidden' }}>
      {PANELS.map((p) => (
        <ChartCanvas key={p.id} x={p.x} y={p.y} w={p.w} h={p.h} build={p.build} />
      ))}
    </div>
  );
}
